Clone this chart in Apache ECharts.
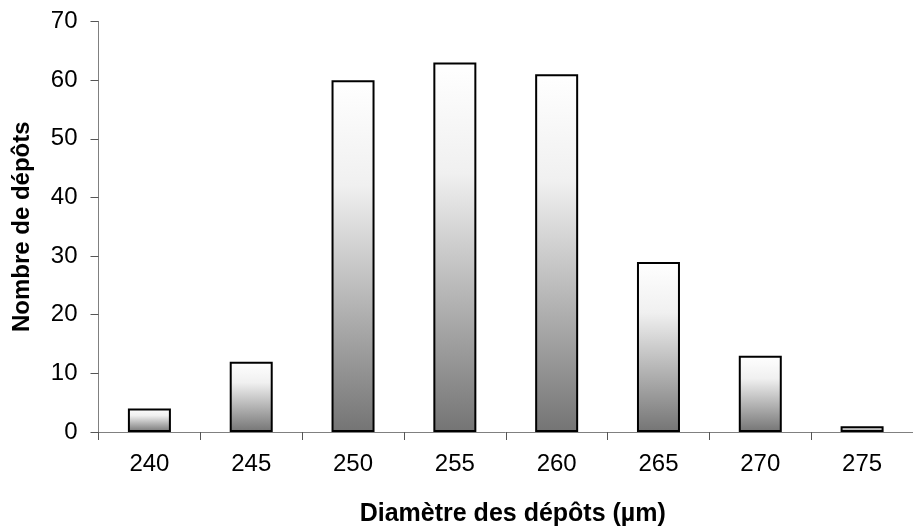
<!DOCTYPE html>
<html><head><meta charset="utf-8">
<script src="https://cdn.jsdelivr.net/npm/echarts@6/dist/echarts.min.js"></script>
<style>html,body{margin:0;padding:0;background:#fff}#c{width:913px;height:532px}</style>
</head><body><div id="c"></div>
<script>
const categories = ['240','245','250','255','260','265','270','275'];
const counts = [4, 12, 60, 63, 61, 29, 13, 1];
const yTicks = [0, 10, 20, 30, 40, 50, 60, 70];
const xTitle = 'Diamètre des dépôts (µm)';
const yTitle = 'Nombre de dépôts';

const chart = echarts.init(document.getElementById('c'), null, {renderer: 'canvas'});
const font = '"Liberation Sans", Arial, sans-serif';
chart.setOption({
  animation: false,
  backgroundColor: '#fff',
  grid: {left: 98.5, top: 21.5, bottom: 98.3, right: -16, containLabel: false},
  xAxis: {
    type: 'category', data: categories,
    axisLine: {lineStyle: {color: '#808080', width: 1}},
    axisTick: {show: true, length: 8, alignWithLabel: false, lineStyle: {color: '#555'}},
    axisLabel: {color: '#000', fontSize: 24, fontFamily: font, margin: 20},
    name: xTitle, nameLocation: 'middle', nameGap: 70,
    nameTextStyle: {fontSize: 25, fontWeight: 'bold', fontFamily: font, color: '#000', padding: [0, 0, 0, 14]}
  },
  yAxis: {
    type: 'value', min: 0, max: 70, interval: 10,
    splitLine: {show: false},
    axisLine: {show: true, lineStyle: {color: '#808080', width: 1}},
    axisTick: {show: true, length: 8, lineStyle: {color: '#555'}},
    axisLabel: {color: '#000', fontSize: 24, fontFamily: font, margin: 21,
      formatter: v => yTicks.includes(v) ? String(v) : ''},
    name: yTitle, nameLocation: 'middle', nameGap: 64, nameRotate: 90,
    nameTextStyle: {fontSize: 24, fontWeight: 'bold', fontFamily: font, color: '#000'}
  },
  series: [{
    type: 'bar', data: counts, barWidth: 43, barCategoryGap: '58%',
    itemStyle: {
      borderColor: '#000', borderWidth: 2,
      color: new echarts.graphic.LinearGradient(0, 0, 0, 1, [
        {offset: 0, color: '#ffffff'},
        {offset: 0.3, color: '#f0f0f0'},
        {offset: 1, color: '#747474'}
      ])
    }
  }]
});
</script></body></html>
